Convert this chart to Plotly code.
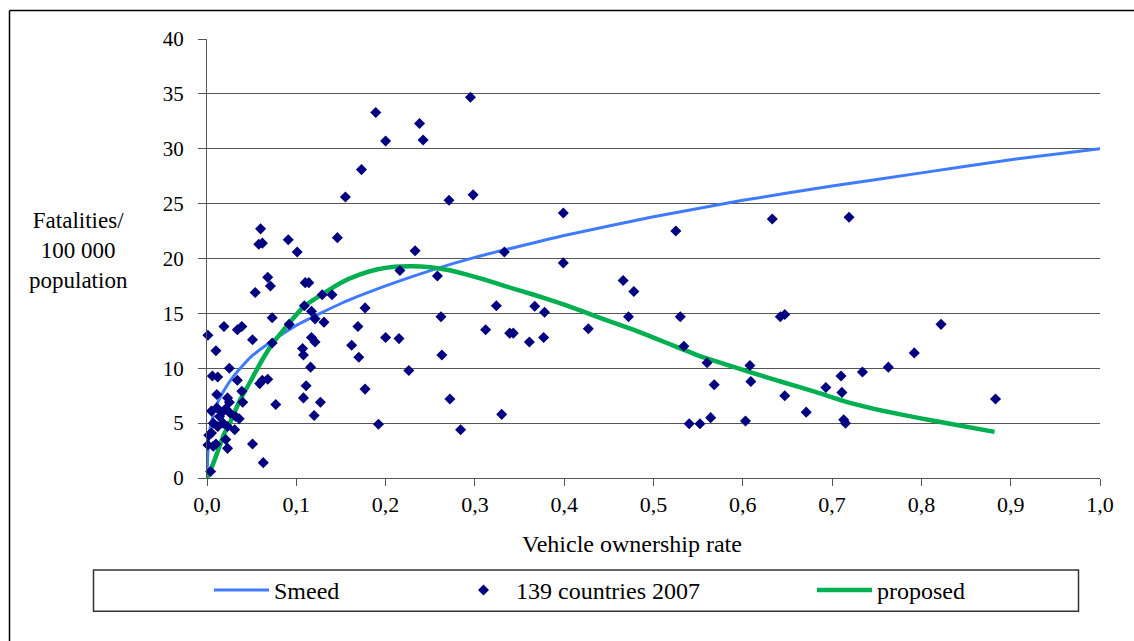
import plotly.graph_objects as go

# ---- data ----
x_ticks = [0.0, 0.1, 0.2, 0.3, 0.4, 0.5, 0.6, 0.7, 0.8, 0.9, 1.0]
x_tick_labels = ["0,0", "0,1", "0,2", "0,3", "0,4", "0,5", "0,6", "0,7", "0,8", "0,9", "1,0"]
y_ticks = [0, 5, 10, 15, 20, 25, 30, 35, 40]

smeed_x = [0, 0.002, 0.005, 0.01, 0.02, 0.03, 0.05, 0.075, 0.1, 0.15, 0.2, 0.25, 0.3,
           0.4, 0.5, 0.6, 0.7, 0.8, 0.9, 1.0]
smeed_y = [0, 3.8, 5.1, 6.5, 8.1, 9.3, 11.1, 12.6, 13.9, 15.9, 17.5, 18.9, 20.1,
           22.1, 23.8, 25.3, 26.6, 27.8, 29.0, 30.0]

proposed_x = [0, 0.004, 0.011, 0.019, 0.025, 0.037, 0.05, 0.06, 0.073, 0.093, 0.108, 0.13,
              0.15, 0.17, 0.19, 0.21, 0.23, 0.25, 0.27, 0.29, 0.31, 0.333, 0.366, 0.40,
              0.44, 0.478, 0.515, 0.552, 0.571, 0.608, 0.646, 0.683, 0.72, 0.758, 0.795,
              0.832, 0.882]
proposed_y = [0, 0.7, 2.2, 4.0, 4.9, 7.1, 9.0, 10.5, 12.2, 14.2, 15.6, 16.8,
              17.8, 18.5, 19.0, 19.25, 19.3, 19.2, 18.95, 18.55, 18.1, 17.5, 16.7, 15.8,
              14.6, 13.5, 12.3, 11.1, 10.6, 9.65, 8.7, 7.8, 6.85, 6.1, 5.5,
              4.95, 4.2]

countries_x = [
    0.005, 0.011, 0.017, 0.021, 0.026, 0.032, 0.036, 0.007, 0.012, 0.018, 0.023, 0.031,
    0.002, 0.005, 0.021, 0.001, 0.007, 0.010, 0.023, 0.004, 0.014,
    0.155, 0.060, 0.058, 0.062, 0.091, 0.101, 0.146, 0.068, 0.071, 0.054,
    0.110, 0.114, 0.129, 0.140, 0.177, 0.109, 0.117, 0.121, 0.131, 0.073,
    0.092, 0.019, 0.034, 0.039, 0.001, 0.051, 0.073, 0.117, 0.121, 0.162,
    0.170, 0.200, 0.010, 0.107, 0.108, 0.116, 0.025, 0.006, 0.012, 0.034,
    0.059, 0.062, 0.068, 0.039, 0.177, 0.111, 0.011, 0.023, 0.025, 0.040,
    0.077, 0.108, 0.127, 0.120, 0.192, 0.051, 0.063,
    0.295, 0.189, 0.238, 0.200, 0.242, 0.173, 0.271, 0.298, 0.233, 0.333,
    0.216, 0.258, 0.324, 0.262, 0.169, 0.312, 0.339, 0.343, 0.215, 0.263,
    0.226, 0.272, 0.284, 0.330,
    0.399, 0.399, 0.525, 0.466, 0.478, 0.367, 0.378, 0.361, 0.377, 0.427,
    0.472, 0.530, 0.534, 0.540, 0.552,
    0.633, 0.719, 0.642, 0.647, 0.560, 0.568, 0.608, 0.609, 0.564, 0.603,
    0.647, 0.671, 0.693, 0.710, 0.711, 0.713, 0.715, 0.734, 0.763, 0.792,
    0.822, 0.883]
countries_y = [
    6.1, 6.4, 6.0, 6.3, 5.9, 5.6, 5.4, 5.0, 4.7, 5.0, 4.7, 4.4,
    3.9, 4.1, 3.5, 3.0, 2.9, 3.1, 2.7, 0.6, 5.6,
    25.6, 22.7, 21.3, 21.4, 21.7, 20.6, 21.9, 18.3, 17.5, 16.9,
    17.8, 17.8, 16.7, 16.7, 15.5, 15.7, 15.2, 14.5, 14.2, 14.6,
    14.0, 13.8, 13.5, 13.8, 13.0, 12.6, 12.3, 12.8, 12.4, 12.1,
    11.0, 12.8, 11.6, 11.8, 11.2, 10.1, 10.0, 9.3, 9.2, 8.9,
    8.6, 8.9, 9.0, 7.9, 8.1, 8.4, 7.6, 7.3, 6.9, 6.9,
    6.7, 7.3, 6.9, 5.7, 4.9, 3.1, 1.4,
    34.7, 33.3, 32.3, 30.7, 30.8, 28.1, 25.3, 25.8, 20.7, 20.6,
    18.9, 18.4, 15.7, 14.7, 13.8, 13.5, 13.2, 13.2, 12.7, 11.2,
    9.8, 7.2, 4.4, 5.8,
    24.15, 19.6, 22.5, 18.0, 17.0, 15.65, 15.1, 12.4, 12.8, 13.6,
    14.7, 14.7, 12.0, 4.95, 4.95,
    23.6, 23.75, 14.7, 14.9, 10.5, 8.5, 10.25, 8.8, 5.5, 5.2,
    7.5, 6.0, 8.25, 9.3, 7.8, 5.3, 5.0, 9.65, 10.1, 11.4,
    14.0, 7.2]

# ---- geometry helpers (pixel -> paper) ----
W, H = 1134, 641
L, R, T, B = 207, 34, 39, 162.5
PW, PH = W - L - R, H - T - B


def px(x):
    return (x - L) / PW


def py(y):
    return (H - B - y) / PH


FONT = "Liberation Serif"
GRID = "#555555"

fig = go.Figure()
fig.add_trace(go.Scatter(x=smeed_x, y=smeed_y, mode="lines", name="Smeed",
                         line=dict(color="#3f7bff", width=3, shape="spline", smoothing=0.5),
                         legend="legend"))
fig.add_trace(go.Scatter(x=proposed_x, y=proposed_y, mode="lines", name="proposed",
                         line=dict(color="#00b050", width=4.5, shape="spline", smoothing=0.4),
                         legend="legend3"))
fig.add_trace(go.Scatter(x=countries_x, y=countries_y, mode="markers",
                         name="139 countries 2007", cliponaxis=False,
                         marker=dict(symbol="diamond", size=8.5, color="#000080",
                                     line=dict(width=0)),
                         legend="legend2"))

leg_common = dict(orientation="h", xanchor="left", yanchor="middle",
                  bgcolor="rgba(0,0,0,0)", borderwidth=0, itemwidth=55,
                  font=dict(family=FONT, size=24, color="black"))

fig.update_layout(
    width=W, height=H,
    margin=dict(l=L, r=R, t=T, b=B),
    plot_bgcolor="white", paper_bgcolor="white",
    font=dict(family=FONT, color="black"),
    showlegend=True,
    legend=dict(x=px(209), y=py(591), **leg_common),
    legend2=dict(x=px(451), y=py(591), **leg_common),
    legend3=dict(x=px(812), y=py(591), **leg_common),
    xaxis=dict(range=[0, 1], tickvals=x_ticks, ticktext=x_tick_labels,
               showgrid=False, zeroline=False, showline=True, linecolor=GRID, linewidth=1,
               ticks="outside", ticklen=7, tickcolor=GRID, tickwidth=1,
               tickfont=dict(family=FONT, size=22, color="black")),
    yaxis=dict(range=[0, 40], tickvals=y_ticks,
               showgrid=True, gridcolor=GRID, gridwidth=1,
               zeroline=False, showline=True, linecolor=GRID, linewidth=1,
               ticks="outside", ticklen=8, tickcolor=GRID, tickwidth=1,
               ticklabelstandoff=10,
               tickfont=dict(family=FONT, size=21, color="black")),
    annotations=[
        dict(text="Fatalities/<br>100 000<br>population", xref="paper", yref="paper",
             x=px(78), y=py(251), xanchor="center", yanchor="middle", showarrow=False,
             font=dict(family=FONT, size=23, color="black")),
        dict(text="Vehicle ownership rate", xref="paper", yref="paper",
             x=px(632), y=py(545), xanchor="center", yanchor="middle", showarrow=False,
             font=dict(family=FONT, size=24, color="black")),
    ],
    shapes=[
        # legend box
        dict(type="rect", xref="paper", yref="paper", x0=px(93.5), x1=px(1078.5),
             y0=py(612), y1=py(570.5), line=dict(color="#333333", width=1.5),
             fillcolor="rgba(0,0,0,0)", layer="below"),
        # outer chart frame (left and top edges)
        dict(type="line", xref="paper", yref="paper", x0=px(9.5), x1=px(9.5),
             y0=py(10.5), y1=py(H + 5), line=dict(color="black", width=1.5)),
        dict(type="line", xref="paper", yref="paper", x0=px(9.5), x1=px(W + 5),
             y0=py(10.5), y1=py(10.5), line=dict(color="black", width=1.5)),
    ],
)

fig.write_html("out.html")
